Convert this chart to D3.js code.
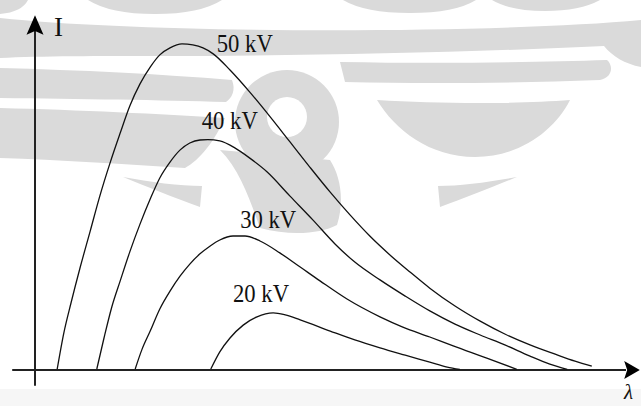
<!DOCTYPE html>
<html>
<head>
<meta charset="utf-8">
<script src="https://cdn.jsdelivr.net/npm/d3@7"></script>
<style>
  body { margin: 0; background: #fff; }
  svg { display: block; }
</style>
</head>
<body>
<div id="chart"></div>
<script>
// X-ray spectra: intensity I vs wavelength lambda (arbitrary units)
const kv50 = [[3.7,0.3],[4.8,11.2],[6.0,20.3],[7.5,30.9],[9.2,42.1],[10.8,52.7],[12.5,62.7],[14.2,71.8],[15.8,80.0],[17.5,86.7],[19.2,91.8],[20.8,95.5],[22.5,97.6],[24.5,98.8],[26.3,98.5],[28.0,97.6],[29.7,95.8],[32.5,90.9],[35.8,84.2],[39.2,76.7],[42.5,69.1],[45.8,61.5],[49.2,53.9],[52.5,47.0],[55.8,40.6],[59.2,34.8],[62.5,29.7],[65.8,24.8],[70.0,19.4],[74.2,14.8],[78.3,10.9],[82.5,7.6],[86.7,4.8],[90.0,2.7],[92.8,1.2]];
const kv40 = [[10.3,0.3],[11.5,9.7],[12.8,19.1],[14.2,27.0],[15.8,35.8],[17.5,44.2],[19.2,51.8],[20.8,58.2],[22.5,63.0],[24.2,66.7],[25.8,68.8],[27.5,69.7],[28.8,69.8],[30.8,69.4],[33.3,67.3],[35.8,64.2],[38.7,60.0],[42.5,52.7],[46.3,45.5],[50.0,38.2],[53.3,32.7],[57.5,27.3],[61.7,22.4],[65.8,17.9],[70.0,13.9],[74.2,10.6],[78.3,7.6],[82.5,4.2],[85.8,1.8],[88.7,0.2]];
const kv30 = [[16.7,0.3],[17.8,6.1],[19.2,11.8],[20.8,18.5],[22.5,23.9],[24.2,28.5],[25.8,32.1],[27.5,35.2],[29.2,37.6],[30.8,39.4],[33.0,40.6],[35.0,40.6],[37.5,39.1],[40.8,35.5],[44.2,31.2],[47.5,27.0],[52.0,21.5],[57.5,16.1],[61.3,13.0],[65.8,10.0],[69.7,7.3],[75.3,3.6],[80.3,0.2]];
const kv20 = [[29.3,0.3],[30.8,5.5],[32.5,9.7],[34.7,13.6],[37.0,16.1],[39.7,17.3],[41.7,16.7],[44.2,15.2],[49.2,11.8],[53.3,9.1],[57.5,6.7],[61.7,4.5],[65.8,2.4],[68.7,0.9],[70.8,0.2]];
const seriesNames = ["50 kV", "40 kV", "30 kV", "20 kV"];
const labelAt = [[30.3,96.4],[27.8,73.0],[34.2,43.0],[33.0,20.6]];

const width = 641, height = 406;
const serif = "Liberation Serif, Times New Roman, serif";

const svg = d3.select("#chart")
  .append("svg")
    .attr("width", width)
    .attr("height", height);

// faint emblem watermark behind the figure (rough outline)
const mark = svg.append("g").attr("fill", "#dadada");
[
  "M0,0 H28 Q22,12 0,14 Z",
  "M88,0 H222 Q200,14 155,14 Q110,14 88,0 Z",
  "M343,0 H476 Q455,13 410,13 Q365,13 343,0 Z",
  "M492,0 H600 Q580,11 545,11 Q510,11 492,0 Z",
  "M0,18 C150,34 490,34 641,20 L641,67 C625,64 612,56 604,46 C480,52 300,56 160,56 C100,56 40,56 0,58 Z",
  "M0,68 C80,70 160,74 232,80 C236,90 232,98 226,102 C160,100 80,99 0,98 Z",
  "M340,62 C450,64 540,62 607,60 C614,66 612,78 600,80 C520,83 430,84 345,82 Z",
  "M377,100 C440,104 520,104 570,100 C555,130 520,157 475,157 C430,157 395,130 377,100 Z",
  "M0,108 C80,110 160,114 225,118 C215,140 200,160 185,168 C120,164 60,160 0,158 Z",
  "M123,177 C150,182 180,186 202,186 L200,207 C175,198 145,186 123,177 Z",
  "M517,177 C490,182 460,186 438,186 L440,207 C465,198 495,186 517,177 Z",
  "M220,150 C240,170 250,200 260,228 C290,236 320,234 337,225 C345,200 340,175 330,160 Z"
].forEach(p => mark.append("path").attr("d", p));
mark.append("circle").attr("cx", 287).attr("cy", 122).attr("r", 52);
svg.append("circle").attr("cx", 287).attr("cy", 117).attr("r", 20).attr("fill", "#fff");

// light strip along the bottom of the scan
svg.append("rect")
  .attr("x", 0).attr("y", 389)
  .attr("width", width).attr("height", height - 389)
  .attr("fill", "#f6f6f6");

const x = d3.scaleLinear().domain([0, 100]).range([35, 635]);
const y = d3.scaleLinear().domain([0, 100]).range([370, 40]);

// axes
svg.append("line")
  .attr("x1", x(-3.8)).attr("x2", x(98.5))
  .attr("y1", y(0)).attr("y2", y(0))
  .attr("stroke", "#222").attr("stroke-width", 2);
svg.append("line")
  .attr("x1", x(0)).attr("x2", x(0))
  .attr("y1", y(-4.8)).attr("y2", y(103))
  .attr("stroke", "#222").attr("stroke-width", 2);

// arrow heads
svg.append("path")
  .attr("d", `M${x(100.8)},${y(0)} L${x(98.2)},${y(0) - 9} L${x(98.7)},${y(0)} L${x(98.2)},${y(0) + 9} Z`)
  .attr("fill", "#000");
svg.append("path")
  .attr("d", `M${x(0)},${y(107.5)} L${x(0) - 8.5},${y(101.6)} L${x(0)},${y(102.7)} L${x(0) + 8.5},${y(101.6)} Z`)
  .attr("fill", "#000");

// axis letters
svg.append("text")
  .attr("x", 54).attr("y", 36)
  .attr("font-family", serif)
  .attr("font-size", 27)
  .attr("fill", "#111")
  .text("I");
svg.append("text")
  .attr("x", 624).attr("y", 399)
  .attr("font-family", serif)
  .attr("font-style", "italic")
  .attr("font-size", 21)
  .attr("fill", "#111")
  .text("λ");

// curves
const line = d3.line()
  .x(d => x(d[0]))
  .y(d => y(d[1]))
  .curve(d3.curveMonotoneX);

[kv50, kv40, kv30, kv20].forEach(s => {
  svg.append("path")
    .datum(s)
    .attr("fill", "none")
    .attr("stroke", "#111")
    .attr("stroke-width", 1.3)
    .attr("d", line);
});

// curve labels
svg.selectAll("text.kv")
  .data(seriesNames)
  .join("text")
    .attr("class", "kv")
    .attr("x", (d, i) => x(labelAt[i][0]))
    .attr("y", (d, i) => y(labelAt[i][1]))
    .attr("font-family", serif)
    .attr("font-size", 25)
    .attr("textLength", 56)
    .attr("lengthAdjust", "spacingAndGlyphs")
    .attr("fill", "#111")
    .text(d => d);
</script>
</body>
</html>
